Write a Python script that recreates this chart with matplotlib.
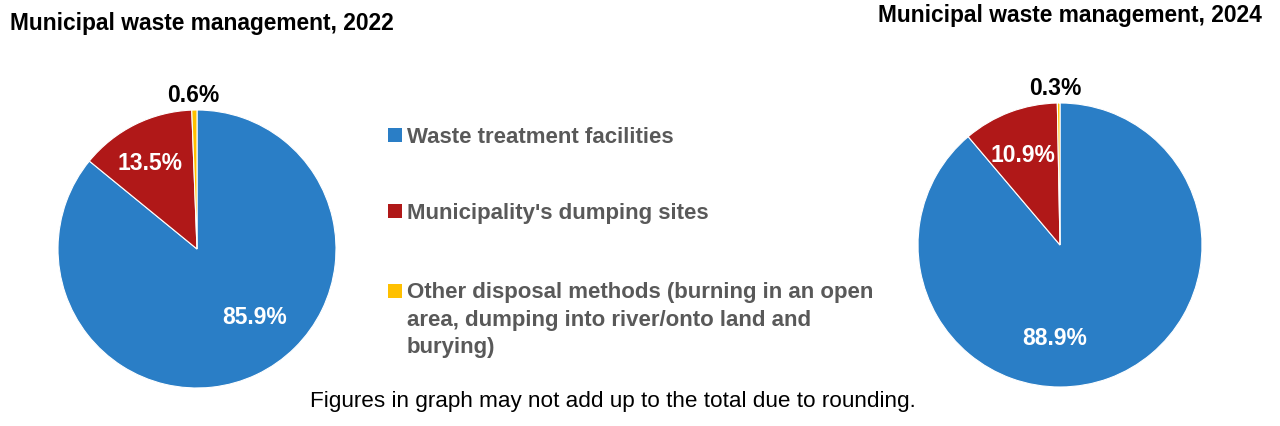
import numpy as np
import matplotlib.pyplot as plt
from matplotlib.patches import Rectangle

plt.rcParams['font.family'] = ['Liberation Sans', 'DejaVu Sans']

# data
categories = ['Waste treatment facilities',
              "Municipality's dumping sites",
              'Other disposal methods (burning in an open\narea, dumping into river/onto land and\nburying)']
share_2022 = [85.9, 13.5, 0.6]
share_2024 = [88.9, 10.9, 0.3]
colors = ['#2a7ec6', '#b01818', '#ffc000']

W, H = 1280, 427
fig = plt.figure(figsize=(W / 100, H / 100), dpi=100)
fig.patch.set_facecolor('white')


def px_axes(cx, cy, r):
    # axes placed by pixel centre / radius (y from top)
    return fig.add_axes([(cx - r) / W, 1 - (cy + r) / H, 2 * r / W, 2 * r / H])


def draw_pie(ax, values, label_pos):
    ax.pie(values, colors=colors, startangle=90, counterclock=False,
           wedgeprops=dict(edgecolor='white', linewidth=0.8))
    ax.set_xlim(-1, 1)
    ax.set_ylim(-1, 1)
    for v, (r, ang), c in zip(values, label_pos, ['white', 'white', 'black']):
        a = np.radians(ang)
        ax.text(r * np.cos(a), r * np.sin(a), f'{v}%', color=c, fontsize=16.5,
                fontweight='bold', ha='center', va='center')


ax1 = px_axes(197, 250, 139)
draw_pie(ax1, share_2022, [(0.635, -49.5), (0.71, 118.4), (1.115, 91.3)])

ax2 = px_axes(1060, 246, 142)
draw_pie(ax2, share_2024, [(0.655, -93), (0.693, 112.4), (1.113, 91.8)])

# titles
fig.text(10 / W, 1 - 30 / H, 'Municipal waste management, 2022', fontsize=16.4,
         fontweight='bold', ha='left', va='baseline')
fig.text(878 / W, 1 - 22 / H, 'Municipal waste management, 2024', fontsize=16.4,
         fontweight='bold', ha='left', va='baseline')

# legend drawn by hand (baseline of first line of each entry, in px)
rows_base = [143, 219, 299]
line_gap = 27
for lab, c, y in zip(categories, colors, rows_base):
    fig.patches.append(Rectangle((388 / W, 1 - y / H), 14 / W, 14 / H,
                                 facecolor=c, edgecolor='none',
                                 transform=fig.transFigure, figure=fig))
    # va='baseline' pins the last line, so shift down by the extra lines
    y_last = y + lab.count('\n') * line_gap
    fig.text(407 / W, 1 - y_last / H, lab, fontsize=16, fontweight='bold',
             color='#595959', ha='left', va='baseline', linespacing=1.4)

fig.text(613 / W, 1 - 407 / H,
         'Figures in graph may not add up to the total due to rounding.',
         fontsize=16.2, ha='center', va='baseline')

fig.savefig('out.png', dpi=100, facecolor='white')
